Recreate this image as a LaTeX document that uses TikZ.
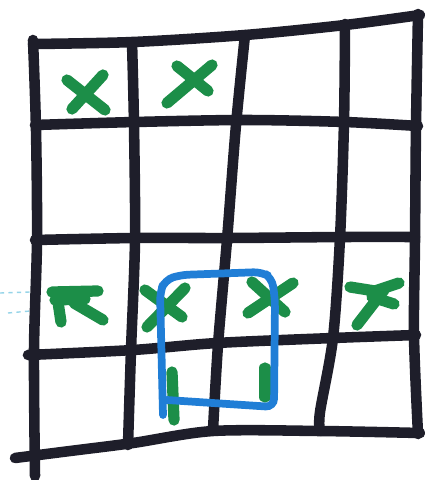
\documentclass[tikz,border=0pt]{standalone}
\usepackage{xcolor}
\usepackage{tikz}
\usetikzlibrary{calc}

\definecolor{inkblack}{RGB}{30,30,42}
\definecolor{inkgreen}{RGB}{28,142,72}
\definecolor{inkblue}{RGB}{32,126,214}
\definecolor{inkcyan}{RGB}{150,212,232}

\begin{document}
\begin{tikzpicture}[x=0.025cm, y=-0.025cm,
  gridline/.style={inkblack, line width=7.5pt, line cap=round, line join=round},
  cross/.style={inkgreen, line width=8pt, line cap=round},
  loopline/.style={inkblue, line width=5.5pt, line cap=round, rounded corners=6pt}]

% ---------------- 1. PAGE ----------------
\useasboundingbox (0,0) rectangle (424,480);

% Stray marks on the left edge
\draw[inkcyan, line width=1pt, dashed] (0,293) -- (30,292);
\draw[inkcyan, line width=1pt, dashed] (8,313) -- (30,311);

% ---------------- 2. GRID (hand drawn) ----------------
% Horizontal strokes
\draw[gridline] plot[smooth] coordinates {(33,44) (133,42) (245,35) (345,25) (420,15)};
\draw[gridline] plot[smooth] coordinates {(35,125) (135,122) (245,120) (345,122) (418,126)};
\draw[gridline] plot[smooth] coordinates {(35,240) (135,238) (228,238) (345,237) (415,237)};
\draw[gridline] plot[smooth] coordinates {(28,355) (133,350) (217,343) (333,338) (416,335)};
\draw[gridline] plot[smooth] coordinates {(15,458) (70,451) (133,443) (213,431) (320,431) (420,433)};

% Vertical strokes
\draw[gridline] plot[smooth] coordinates {(33,40) (36,130) (37,240) (34,350) (35,476)};
\draw[gridline] plot[smooth] coordinates {(132,42) (134,125) (135,240) (131,350) (128,445)};
\draw[gridline] plot[smooth] coordinates {(245,35) (236,125) (227,240) (218,345) (213,430)};
\draw[gridline] plot[smooth] coordinates {(345,24) (344,122) (340,238) (333,338) (320,412) (320,431)};
\draw[gridline] plot[smooth] coordinates {(418,14) (416,126) (415,240) (414,336) (418,434)};

% ---------------- 3. GREEN CROSSES ----------------
% Row 1
\draw[cross] (67,80) -- (105,110);
\draw[cross] (103,75) -- (72,109);
\draw[cross] (177,66) -- (208,91);
\draw[cross] (212,65) -- (167,103);

% Row 3
\draw[cross] (52,292) -- (98,291);
\draw[cross] (55,300) -- (85,299);
\draw[cross] (58,302) -- (61,322);
\draw[cross] (74,303) -- (103,320);
\draw[cross] (145,290) -- (182,317);
\draw[cross] (185,288) -- (147,327);
\draw[cross] (252,282) -- (285,312);
\draw[cross] (293,283) -- (248,313);
\draw[cross] (350,287) -- (375,291) -- (399,283);
\draw[cross] (384,290) -- (357,325);
\draw[cross] (372,297) -- (394,304);

% Row 4 (partly covered)
\draw[cross] (172,372) -- (174,420);
\draw[cross] (265,368) -- (265,397);

% ---------------- 4. BLUE LOOP ----------------
\draw[loopline] (163,415) -- (160,292) -- (165,280) -- (180,275) -- (262,272)
  -- (272,278) -- (275,300) -- (274,407) -- (167,400);

\end{tikzpicture}
\end{document}
